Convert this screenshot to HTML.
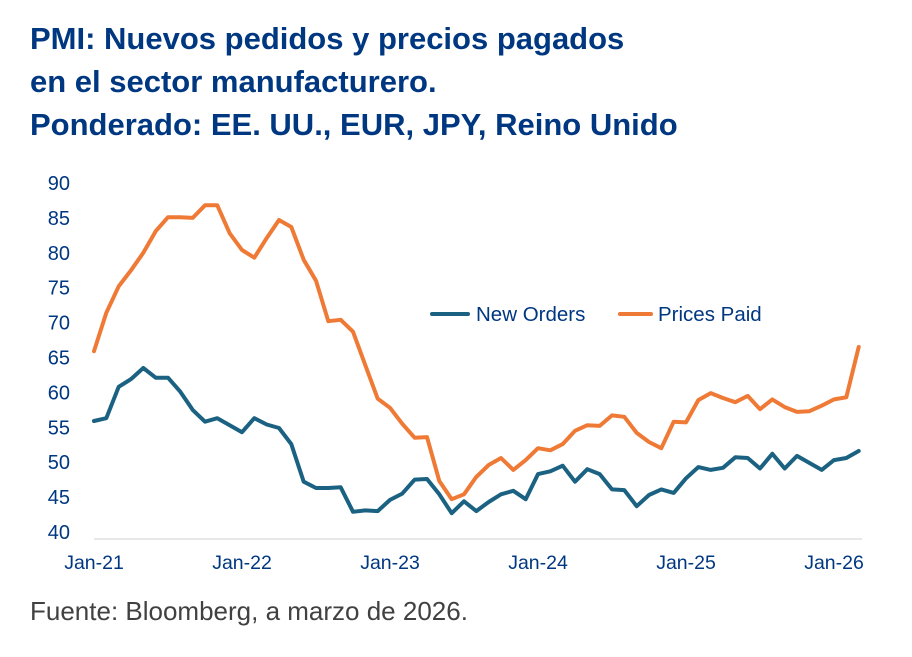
<!DOCTYPE html>
<html><head><meta charset="utf-8">
<style>
body{margin:0;background:#fff;width:912px;height:657px;overflow:hidden;font-family:"Liberation Sans",sans-serif;}
.title{position:absolute;left:30px;top:17px;font-size:31px;font-weight:bold;color:#003781;line-height:43px;}
.foot{position:absolute;left:30px;top:596px;font-size:26px;color:#414141;}
svg{position:absolute;left:0;top:0;}
</style></head><body>
<div class="title">PMI: Nuevos pedidos y precios pagados<br>en el sector manufacturero.<br>Ponderado: EE. UU., EUR, JPY, Reino Unido</div>
<svg width="912" height="657">
<g id="yaxis"></g>
<g id="xaxis"></g>
<g id="series"></g>
<g>
<line x1="432" y1="314" x2="468" y2="314" stroke="#1b6282" stroke-width="4" stroke-linecap="round"/>
<text x="476" y="321" font-size="20.5" fill="#003781">New Orders</text>
<line x1="620" y1="314" x2="651" y2="314" stroke="#ef7a36" stroke-width="4" stroke-linecap="round"/>
<text x="658" y="321" font-size="20.5" fill="#003781">Prices Paid</text>
</g>
</svg>
<div class="foot">Fuente: Bloomberg, a marzo de 2026.</div>
<script>
const yTicks=[90,85,80,75,70,65,60,55,50,45,40];
const xLabels=["Jan-21","Jan-22","Jan-23","Jan-24","Jan-25","Jan-26"];
const newOrders=[55.9,56.3,60.8,61.9,63.5,62.1,62.1,60.1,57.5,55.8,56.3,55.3,54.3,56.3,55.4,54.9,52.6,47.2,46.3,46.3,46.4,42.9,43.1,43,44.6,45.5,47.5,47.6,45.4,42.7,44.4,43,44.3,45.4,45.9,44.7,48.3,48.7,49.5,47.2,49,48.3,46.1,46,43.7,45.3,46.1,45.6,47.7,49.3,48.9,49.2,50.7,50.6,49.1,51.2,49.1,50.9,49.9,48.9,50.3,50.6,51.6];
const pricesPaid=[65.9,71.4,75.2,77.5,80,83.1,85.1,85.1,85,86.8,86.8,82.8,80.4,79.3,82.1,84.7,83.7,79,76,70.2,70.4,68.7,63.9,59.1,57.8,55.5,53.5,53.6,47.3,44.7,45.4,47.9,49.6,50.6,48.9,50.3,52,51.7,52.6,54.5,55.3,55.2,56.7,56.5,54.2,52.9,52,55.8,55.7,58.9,59.9,59.2,58.6,59.5,57.6,59,57.9,57.2,57.3,58.1,59,59.3,66.5];
const NS='http://www.w3.org/2000/svg';
function yS(v){return 532-(v-40)*349/50;}
function xS(i){return 94+i*148/12;}
const ya=document.getElementById('yaxis'),xa=document.getElementById('xaxis'),sg=document.getElementById('series');
yTicks.forEach(t=>{const e=document.createElementNS(NS,'text');
e.setAttribute('x',70);e.setAttribute('y',yS(t)+7);e.setAttribute('font-size','20');e.setAttribute('fill','#003781');e.setAttribute('text-anchor','end');e.textContent=t;


ya.appendChild(e);});
xLabels.forEach((l,k)=>{const e=document.createElementNS(NS,'text');
e.setAttribute('x',xS(k*12));e.setAttribute('y',569);e.setAttribute('font-size','19.5');e.setAttribute('fill','#003781');e.setAttribute('text-anchor','middle');e.textContent=l;


xa.appendChild(e);});
const ax=document.createElementNS(NS,'line');
ax.setAttribute('x1',94);ax.setAttribute('x2',862);ax.setAttribute('y1',539);ax.setAttribute('y2',539);ax.setAttribute('stroke','#d0d0d0');ax.setAttribute('stroke-width','1');


xa.appendChild(ax);
function line(d,c,n){const p=document.createElementNS(NS,'polyline');
p.setAttribute('points',d.map((v,i)=>xS(i).toFixed(1)+','+yS(v).toFixed(1)).join(' '));
p.setAttribute('fill','none');p.setAttribute('stroke',c);p.setAttribute('stroke-width','4');p.setAttribute('stroke-linejoin','round');p.setAttribute('stroke-linecap','round');


sg.appendChild(p);}
line(pricesPaid,'#ef7a36','prices-paid-line');
line(newOrders,'#1b6282','new-orders-line');
</script>
</body></html>
